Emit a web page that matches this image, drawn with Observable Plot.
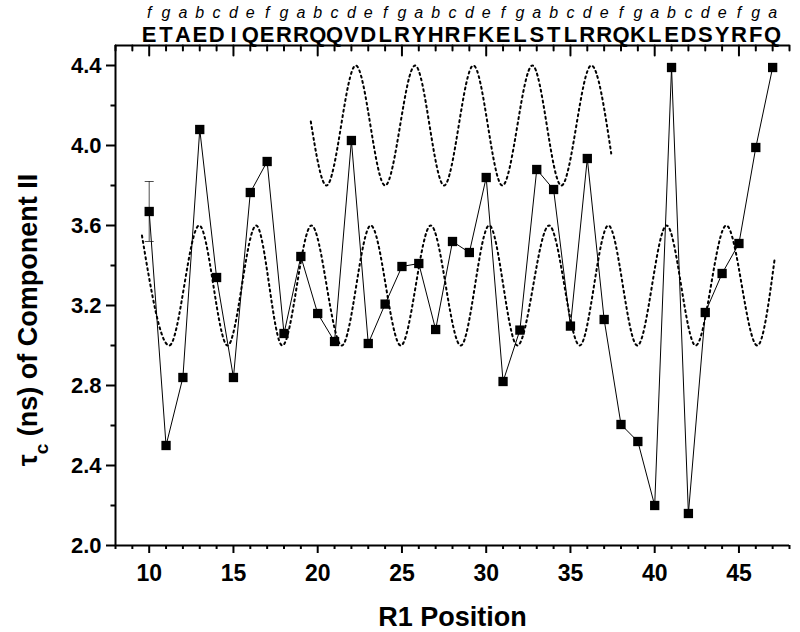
<!DOCTYPE html>
<html><head><meta charset="utf-8">
<script src="https://cdn.jsdelivr.net/npm/d3@7"></script>
<script src="https://cdn.jsdelivr.net/npm/@observablehq/plot@0.6"></script>
<style>body{margin:0;background:#fff;} svg{display:block}</style>
</head><body><div id="chart"></div>
<script>
// ---- data ----
const positions = [10,11,12,13,14,15,16,17,18,19,20,21,22,23,24,25,26,27,28,29,30,31,32,33,34,35,36,37,38,39,40,41,42,43,44,45,46,47];
const tau = [3.67,2.50,2.84,4.08,3.34,2.84,3.765,3.92,3.06,3.445,3.16,3.02,4.025,3.01,3.207,3.395,3.41,3.08,3.52,3.465,3.84,2.82,3.077,3.88,3.78,3.097,3.935,3.13,2.605,2.52,2.20,4.39,2.16,3.165,3.36,3.51,3.99,4.39];
const residues = ["E","T","A","E","D","I","Q","E","R","R","Q","Q","V","D","L","R","Y","H","R","F","K","E","L","S","T","L","R","R","Q","K","L","E","D","S","Y","R","F","Q"];
const heptad = ["f","g","a","b","c","d","e","f","g","a","b","c","d","e","f","g","a","b","c","d","e","f","g","a","b","c","d","e","f","g","a","b","c","d","e","f","g","a"];
const errPos = [10];
const errLow = [3.52];
const errHigh = [3.82];
// dotted reference curves: start, extrema, end
const lowerX = [9.57,11.19,12.97,14.65,16.35,17.9,19.63,21.43,23.15,24.93,26.71,28.49,30.18,31.85,33.73,35.55,37.25,38.97,40.71,42.43,44.25,46.09,47.13];
const lowerY = [3.55,3.0,3.6,3.0,3.6,3.0,3.6,3.0,3.6,3.0,3.6,3.0,3.6,3.0,3.6,3.0,3.6,3.0,3.6,3.0,3.6,3.0,3.44];
const upperX = [19.59,20.52,22.26,24.0,25.78,27.5,29.24,30.96,32.74,34.46,36.24,37.42];
const upperY = [4.12,3.8,4.4,3.8,4.4,3.8,4.4,3.8,4.4,3.8,4.4,3.96];
const xMajorTicks = [10,15,20,25,30,35,40,45];
const xMinorTicks = [8,9,10,11,12,13,14,15,16,17,18,19,20,21,22,23,24,25,26,27,28,29,30,31,32,33,34,35,36,37,38,39,40,41,42,43,44,45,46,47,48];
const yMajorTicks = [2.0,2.4,2.8,3.2,3.6,4.0,4.4];
const yMinorTicks = [2.2,2.6,3.0,3.4,3.8,4.2];
const xLabel = "R1 Position";
const yLabelSymbol = "τ";
const yLabelSub = "c";
const yLabelRest = " (ns) of Component II";

// ---- tables ----
const points = positions.map((p,i) => ({pos: p, tau: tau[i]}));
const seq = positions.map((p,i) => ({pos: p, res: residues[i], hep: heptad[i]}));
const errs = errPos.map((p,i) => ({pos: p, lo: errLow[i], hi: errHigh[i]}));
const lower = lowerX.map((x,i) => ({x, y: lowerY[i]}));
const upper = upperX.map((x,i) => ({x, y: upperY[i]}));
const xMinorOnly = xMinorTicks.filter(t => !xMajorTicks.includes(t));

const tickDown = {draw(ctx, l) { ctx.moveTo(0, 0); ctx.lineTo(0, l); }};
const capSymbol = {draw(ctx, size) { const w = Math.sqrt(size / Math.PI); ctx.moveTo(-w, 0); ctx.lineTo(w, 0); }};

const font = "'Liberation Sans', Arial, sans-serif";

const chart = Plot.plot({
  width: 800, height: 632,
  marginLeft: 115, marginRight: 11, marginTop: 45, marginBottom: 87,
  x: {domain: [8, 48]},
  y: {domain: [2.0, 4.5]},
  style: {fontFamily: font, background: "white", color: "black"},
  marks: [
    // frame lines
    Plot.ruleY([2.0], {stroke: "black", strokeWidth: 2}),
    Plot.ruleY([4.5], {stroke: "black", strokeWidth: 2}),
    Plot.ruleX([8], {stroke: "black", strokeWidth: 2}),
    // bottom axis
    Plot.axisX({ticks: xMajorTicks, tickSize: 8, tickPadding: 11, fontSize: 23, fontWeight: "bold", label: null, strokeWidth: 2, tickFormat: d => String(d)}),
    Plot.axisX({ticks: xMinorOnly, tickSize: 4, tickFormat: () => "", label: null, strokeWidth: 2}),
    // top inward ticks
    Plot.vector(xMajorTicks, {x: d => d, frameAnchor: "top", length: 10, shape: tickDown, anchor: "start", stroke: "black", strokeWidth: 2}),
    Plot.vector(xMinorOnly, {x: d => d, frameAnchor: "top", length: 5, shape: tickDown, anchor: "start", stroke: "black", strokeWidth: 2}),
    // left axis
    Plot.axisY({ticks: yMajorTicks, tickSize: 9, tickPadding: 5, fontSize: 22, fontWeight: "bold", label: null, strokeWidth: 2, tickFormat: d3.format(".1f")}),
    Plot.axisY({ticks: yMinorTicks, tickSize: 4.5, tickFormat: () => "", label: null, strokeWidth: 2}),
    // dotted curves
    Plot.line(lower, {x: "x", y: "y", curve: "monotone-x", stroke: "black", strokeWidth: 2, strokeDasharray: "2,3.5"}),
    Plot.line(upper, {x: "x", y: "y", curve: "monotone-x", stroke: "black", strokeWidth: 2, strokeDasharray: "2,3.5"}),
    // error bar
    Plot.ruleX(errs, {x: "pos", y1: "lo", y2: "hi", stroke: "#222", strokeWidth: 0.8}),
    Plot.dot(errs, {x: "pos", y: "lo", symbol: capSymbol, r: 4.5, stroke: "#222", strokeWidth: 0.8}),
    Plot.dot(errs, {x: "pos", y: "hi", symbol: capSymbol, r: 4.5, stroke: "#222", strokeWidth: 0.8}),
    // data
    Plot.line(points, {x: "pos", y: "tau", stroke: "black", strokeWidth: 1}),
    Plot.dot(points, {x: "pos", y: "tau", symbol: "square", r: 5.25, fill: "black", stroke: "none"}),
    // sequence letters
    Plot.text(seq, {x: "pos", text: "res", frameAnchor: "top", lineAnchor: "bottom", dy: -4, fontSize: 22, fontWeight: "bold", fill: "black"}),
    Plot.text(seq, {x: "pos", text: "hep", frameAnchor: "top", lineAnchor: "bottom", dy: -28, fontSize: 16, fontStyle: "italic", fill: "black"}),
    // x axis title
    Plot.text([xLabel], {frameAnchor: "bottom", lineAnchor: "bottom", dy: 80, fontSize: 27, fontWeight: "bold", fill: "black"})
  ]
});

// y-axis title with subscript c
const yt = d3.select(chart).append("text")
  .attr("transform", "translate(37,320) rotate(-90)")
  .attr("text-anchor", "middle")
  .attr("font-family", font)
  .attr("font-size", 27)
  .attr("font-weight", "bold")
  .attr("fill", "black");
yt.append("tspan").text(yLabelSymbol);
yt.append("tspan").attr("baseline-shift", "sub").attr("font-size", 19).text(yLabelSub);
yt.append("tspan").text(yLabelRest);

document.getElementById("chart").appendChild(chart);
</script>
</body></html>
